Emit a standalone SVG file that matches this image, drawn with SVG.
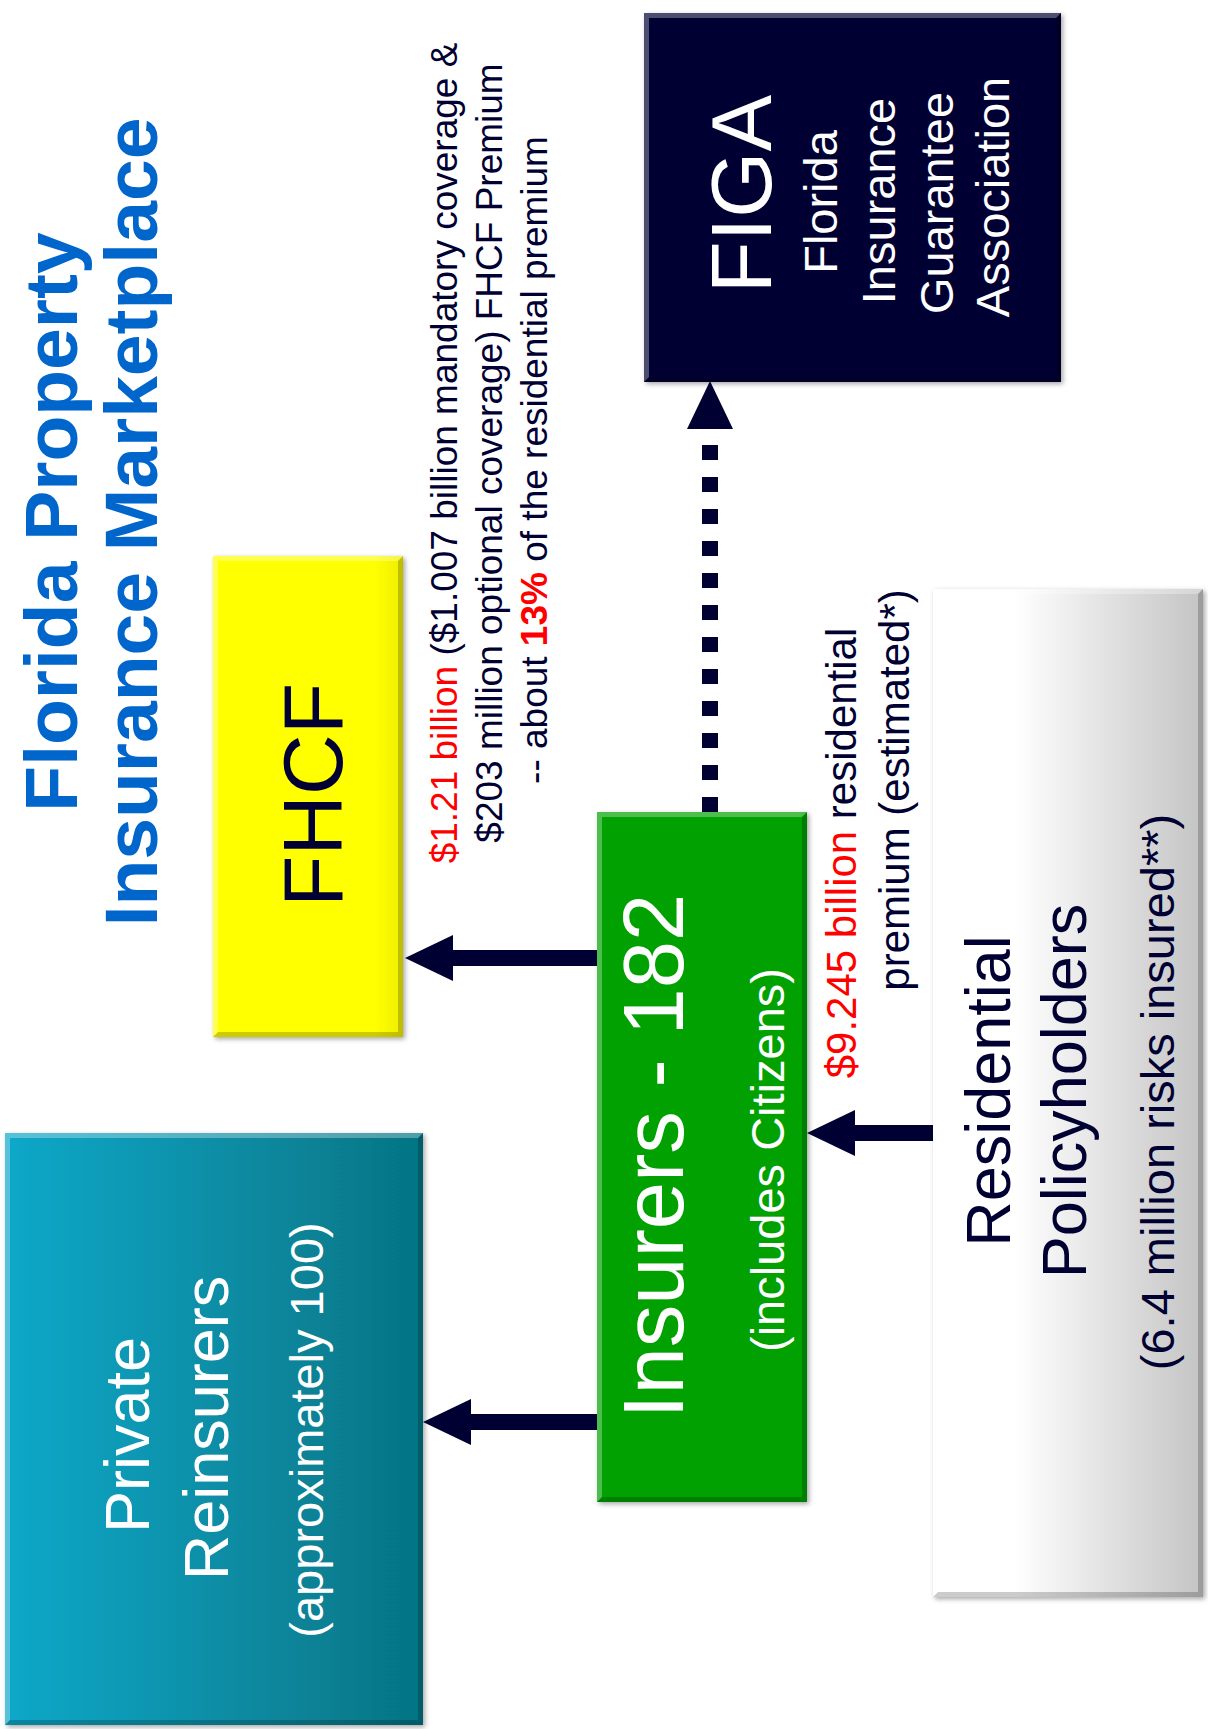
<svg xmlns="http://www.w3.org/2000/svg" width="1208" height="1729" viewBox="0 0 1208 1729">
<defs>
  <linearGradient id="gTeal" x1="0" y1="0" x2="1" y2="0">
    <stop offset="0" stop-color="#0AA8C9"/>
    <stop offset="1" stop-color="#067483"/>
  </linearGradient>
  <linearGradient id="gGray" x1="0" y1="0" x2="1" y2="0">
    <stop offset="0" stop-color="#ffffff"/>
    <stop offset="0.3" stop-color="#ffffff"/>
    <stop offset="1" stop-color="#c4c4c4"/>
  </linearGradient>
  <linearGradient id="gYellow" x1="0" y1="0" x2="1" y2="0">
    <stop offset="0" stop-color="#FFFF00"/>
    <stop offset="0.85" stop-color="#FFFF00"/>
    <stop offset="1" stop-color="#EEEE00"/>
  </linearGradient>
  <filter id="sh" x="-5%" y="-5%" width="112%" height="112%">
    <feDropShadow dx="2" dy="2" stdDeviation="2.5" flood-color="#000" flood-opacity="0.35"/>
  </filter>
  <marker id="head" viewBox="0 0 48 46" refX="0" refY="23" markerWidth="48" markerHeight="46" markerUnits="userSpaceOnUse" orient="auto">
    <path d="M0,0 L48,23 L0,46 Z" fill="#000033"/>
  </marker>
</defs>
<style>
  text{font-family:"Liberation Sans",Arial,sans-serif}
  .title{font-size:75px;font-weight:bold;fill:#0066CC}
  .navy{fill:#000033}
  .red{fill:#FF0000}
  .white{fill:#ffffff}
  .lbl{font-size:37px}
  .lbl2{font-size:42px}
  .hl{fill:#ffffff;opacity:0.3}
  .dk{fill:#000000;opacity:0.2}
  .box{filter:url(#sh)}
  .arrow{stroke:#000033;stroke-width:16;fill:none;marker-end:url(#head)}
  .dashed{stroke-dasharray:15 17}
</style>

<rect width="1208" height="1729" fill="#ffffff"/>

<g id="title">
  <text class="title" text-anchor="middle" transform="translate(76.5,522) rotate(-90)">Florida Property</text>
  <text class="title" text-anchor="middle" transform="translate(157,522) rotate(-90)">Insurance Marketplace</text>
</g>

<g id="node-fhcf">
  <rect class="box" x="213" y="556" width="190" height="481" fill="url(#gYellow)"/>
  <path class="hl" d="M213,556 L403,556 L398,561 L218,561 L218,1032 L213,1037 Z"/>
  <path class="dk" d="M403,556 L403,1037 L213,1037 L218,1032 L398,1032 L398,561 Z"/>
  <text class="navy" font-size="84" text-anchor="middle" transform="translate(342,795) rotate(-90)">FHCF</text>
</g>

<g id="node-figa">
  <rect class="box" x="644" y="13" width="417" height="369" fill="#030330"/>
  <path class="hl" d="M644,13 L1061,13 L1056,18 L649,18 L649,377 L644,382 Z" opacity="0.18"/>
  <path class="dk" d="M1061,13 L1061,382 L644,382 L649,377 L1056,377 L1056,18 Z"/>
  <text class="white" font-size="85" text-anchor="middle" transform="translate(770.5,194) rotate(-90)">FIGA</text>
  <text class="white" font-size="47" text-anchor="middle" transform="translate(836.5,202) rotate(-90)">Florida</text>
  <text class="white" font-size="47" text-anchor="middle" transform="translate(894.5,201) rotate(-90)">Insurance</text>
  <text class="white" font-size="47" text-anchor="middle" transform="translate(953,203) rotate(-90)">Guarantee</text>
  <text class="white" font-size="47" text-anchor="middle" transform="translate(1009,197) rotate(-90)">Association</text>
</g>

<g id="node-insurers">
  <rect class="box" x="597" y="812" width="210" height="690" fill="#06A106"/>
  <path class="hl" d="M597,812 L807,812 L802,817 L602,817 L602,1497 L597,1502 Z"/>
  <path class="dk" d="M807,812 L807,1502 L597,1502 L602,1497 L802,1497 L802,817 Z"/>
  <text class="white" font-size="85" text-anchor="middle" transform="translate(683,1156) rotate(-90)">Insurers - 182</text>
  <text class="white" font-size="47" text-anchor="middle" transform="translate(784,1160) rotate(-90)">(includes Citizens)</text>
</g>

<g id="node-reinsurers">
  <rect class="box" x="5" y="1133" width="418" height="592" fill="url(#gTeal)"/>
  <path class="hl" d="M5,1133 L423,1133 L418,1138 L10,1138 L10,1720 L5,1725 Z"/>
  <path class="dk" d="M423,1133 L423,1725 L5,1725 L10,1720 L418,1720 L418,1138 Z"/>
  <text class="white" font-size="63" text-anchor="middle" transform="translate(149,1435) rotate(-90)">Private</text>
  <text class="white" font-size="63" text-anchor="middle" transform="translate(228,1428) rotate(-90)">Reinsurers</text>
  <text class="white" font-size="47" text-anchor="middle" transform="translate(323,1430) rotate(-90)">(approximately 100)</text>
</g>

<g id="node-policyholders">
  <rect class="box" x="933" y="589" width="270" height="1008" fill="url(#gGray)"/>
  <path class="hl" d="M933,589 L1203,589 L1198,594 L938,594 L938,1592 L933,1597 Z"/>
  <path class="dk" d="M1203,589 L1203,1597 L933,1597 L938,1592 L1198,1592 L1198,594 Z" opacity="0.18"/>
  <text class="navy" font-size="63" text-anchor="middle" transform="translate(1010,1091) rotate(-90)">Residential</text>
  <text class="navy" font-size="63" text-anchor="middle" transform="translate(1086,1091) rotate(-90)">Policyholders</text>
  <text class="navy" font-size="47" text-anchor="middle" transform="translate(1174,1092) rotate(-90)">(6.4 million risks insured**)</text>
</g>

<g id="connectors">
  <line class="arrow" x1="597" y1="958" x2="453" y2="958"/>
  <line class="arrow" x1="597" y1="1422" x2="471" y2="1422"/>
  <line class="arrow" x1="933" y1="1133" x2="855" y2="1133"/>
  <line class="arrow dashed" x1="710" y1="812" x2="710" y2="429"/>
</g>

<g id="labels">
  <text class="lbl navy" text-anchor="middle" transform="translate(457,453) rotate(-90)"><tspan class="red">$1.21 billion</tspan> ($1.007 billion mandatory coverage &amp;</text>
  <text class="lbl navy" text-anchor="middle" transform="translate(502,453) rotate(-90)">$203 million optional coverage) FHCF Premium</text>
  <text class="lbl navy" text-anchor="middle" transform="translate(547,460) rotate(-90)">-- about <tspan class="red" font-weight="bold">13%</tspan> of the residential premium</text>
  <text class="lbl2 navy" text-anchor="middle" transform="translate(856,853) rotate(-90)"><tspan class="red">$9.245 billion</tspan> residential</text>
  <text class="lbl2 navy" text-anchor="middle" transform="translate(909,790) rotate(-90)">premium (estimated*)</text>
</g>
</svg>
